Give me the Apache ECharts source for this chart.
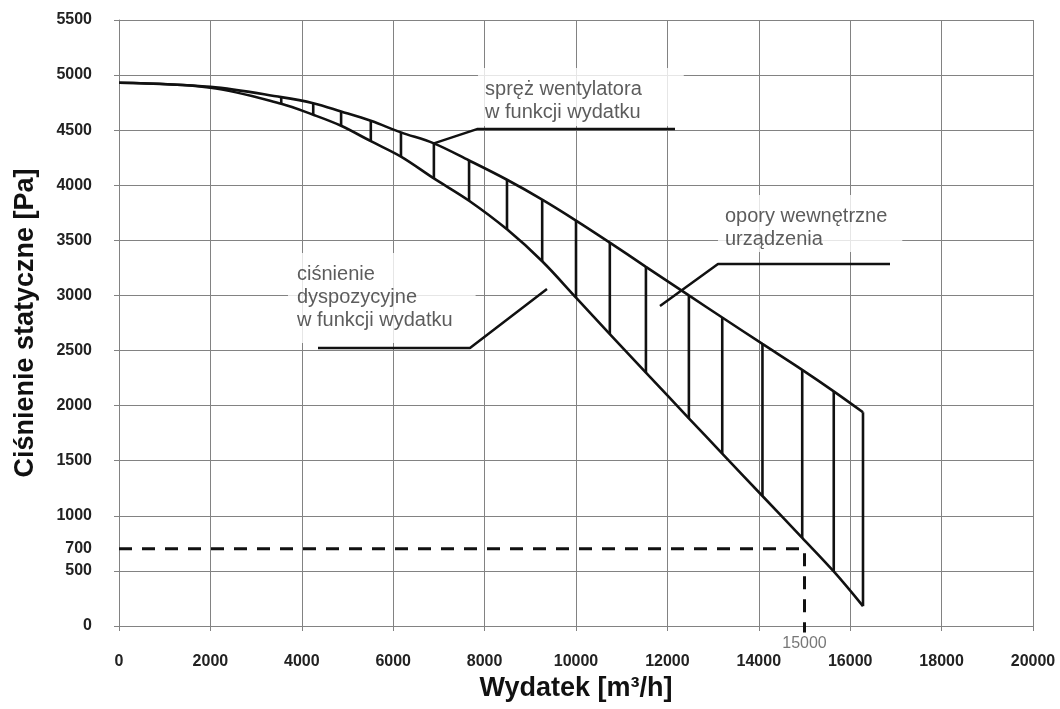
<!DOCTYPE html>
<html>
<head>
<meta charset="utf-8">
<script src="https://cdn.jsdelivr.net/npm/echarts@6/dist/echarts.min.js"></script>
<style>html,body{margin:0;padding:0;background:#fff}#c{width:1060px;height:709px}</style>
</head>
<body>
<div id="c"></div>
<script>
// ---- data ----
const flow = [0, 2000, 3550, 4250, 4860, 5510, 6170, 6890, 7660, 8490, 9260, 10000, 10740, 11530, 12470, 13200, 14080, 14950, 15640, 16280];
const fanPressure = [4930, 4893, 4800, 4745, 4670, 4585, 4480, 4380, 4225, 4050, 3870, 3680, 3480, 3260, 3000, 2800, 2560, 2325, 2130, 1940];
const availablePressure = [4930, 4885, 4740, 4640, 4540, 4400, 4260, 4062, 3860, 3600, 3310, 2980, 2650, 2300, 1885, 1565, 1180, 800, 495, 180];
const yTickLabels = [0, 500, 700, 1000, 1500, 2000, 2500, 3000, 3500, 4000, 4500, 5000, 5500];
const operatingFlow = 15000;
const operatingPressure = 700;
const annotationTexts = [
  'spręż wentylatora\nw funkcji wydatku',
  'opory wewnętrzne\nurządzenia',
  'ciśnienie\ndyspozycyjne\nw funkcji wydatku'
];
const leaderFan = [[6890, 4380], [7834, 4510], [12166, 4510]];
const leaderLoss = [[11838, 2904], [13107, 3285], [16871, 3285]];
const leaderAvail = [[9365, 3058], [7680, 2523], [4354, 2523]];

// ---- chart ----
const FONT = "'Liberation Sans', Arial, Helvetica, sans-serif";
const GRID = '#828282';
const INK = '#111';
const chart = echarts.init(document.getElementById('c'), null, {renderer: 'canvas'});

const hatchData = flow.map((x, i) => [x, availablePressure[i], fanPressure[i]]).filter((d, i) => i >= 2);
const pair = (xs, ys) => xs.map((x, i) => [x, ys[i]]);
const plain = v => String(v);

const leaderSeries = [leaderFan, leaderLoss, leaderAvail].map(pts => ({
  type: 'line', data: pts, symbol: 'none', silent: true, z: 6,
  lineStyle: {color: INK, width: 2.5}, animation: false
}));

const option = {
  animation: false,
  backgroundColor: '#fff',
  grid: {left: 119, right: 27, top: 20, bottom: 83},
  xAxis: {
    type: 'value', min: 0, max: 20000, interval: 2000,
    name: 'Wydatek [m³/h]', nameLocation: 'middle', nameGap: 47,
    nameTextStyle: {fontFamily: FONT, fontSize: 27, fontWeight: 'bold', color: INK},
    axisLine: {show: true, lineStyle: {color: GRID, width: 1}},
    axisTick: {show: true, length: 5, lineStyle: {color: GRID}},
    axisLabel: {margin: 28, formatter: plain, fontFamily: FONT, fontSize: 16, fontWeight: 'bold', color: '#222'},
    splitLine: {show: true, lineStyle: {color: GRID, width: 1}}
  },
  yAxis: {
    type: 'value', min: 0, max: 5500, interval: 500,
    name: 'Ciśnienie statyczne [Pa]', nameLocation: 'middle', nameGap: 80,
    nameTextStyle: {fontFamily: FONT, fontSize: 27, fontWeight: 'bold', color: INK},
    axisLine: {show: true, lineStyle: {color: GRID, width: 1}},
    axisTick: {show: true, length: 5, lineStyle: {color: GRID}},
    axisLabel: {customValues: yTickLabels, formatter: plain, margin: 27, fontFamily: FONT, fontSize: 16, fontWeight: 'bold', color: '#222'},
    splitLine: {show: true, lineStyle: {color: GRID, width: 1}}
  },
  series: [
    {
      type: 'line', name: 'fan', data: pair(flow, fanPressure), smooth: 0.35, symbol: 'none', z: 5,
      lineStyle: {color: INK, width: 2.6}
    },
    {
      type: 'line', name: 'available', data: pair(flow, availablePressure), smooth: 0.35, symbol: 'none', z: 5,
      lineStyle: {color: INK, width: 2.6}
    },
    {
      type: 'custom', name: 'hatch', data: hatchData, z: 5,
      encode: {x: 0, y: [1, 2]},
      renderItem: function (params, api) {
        const x = api.value(0);
        const p1 = api.coord([x, api.value(1)]);
        const p2 = api.coord([x, api.value(2)]);
        return {type: 'line', shape: {x1: p1[0], y1: p1[1], x2: p2[0], y2: p2[1]},
          style: {stroke: INK, lineWidth: 2.6}};
      }
    },
    {
      type: 'line', name: 'operating', clip: false, symbol: 'none', z: 4,
      data: [[0, operatingPressure], [operatingFlow, operatingPressure], [operatingFlow, -60]],
      lineStyle: {color: INK, width: 3, type: [13, 10]}
    },
    {
      type: 'scatter', clip: false, symbolSize: 0, silent: true, z: 4,
      data: [[operatingFlow, -60]],
      label: {show: true, position: 'bottom', distance: 3, formatter: p => String(p.value[0]),
        fontFamily: FONT, fontSize: 16, color: '#555'}
    },
    {
      type: 'scatter', symbolSize: 0, silent: true, z: 4, clip: false,
      data: [
        {value: [7856, 5064], label: {formatter: annotationTexts[0], padding: [10, 42, 2, 7]}},
        {value: [13107, 3911], label: {formatter: annotationTexts[1], padding: [10, 15, 1, 7]}},
        {value: [3698, 3385], label: {formatter: annotationTexts[2], padding: [10, 23, 11, 9]}}
      ],
      label: {show: true, position: [0, 0], align: 'left', verticalAlign: 'top',
        backgroundColor: '#fff', color: '#333', fontFamily: FONT, fontSize: 20, lineHeight: 23}
    }
  ].concat(leaderSeries)
};
chart.setOption(option);
</script>
</body>
</html>
